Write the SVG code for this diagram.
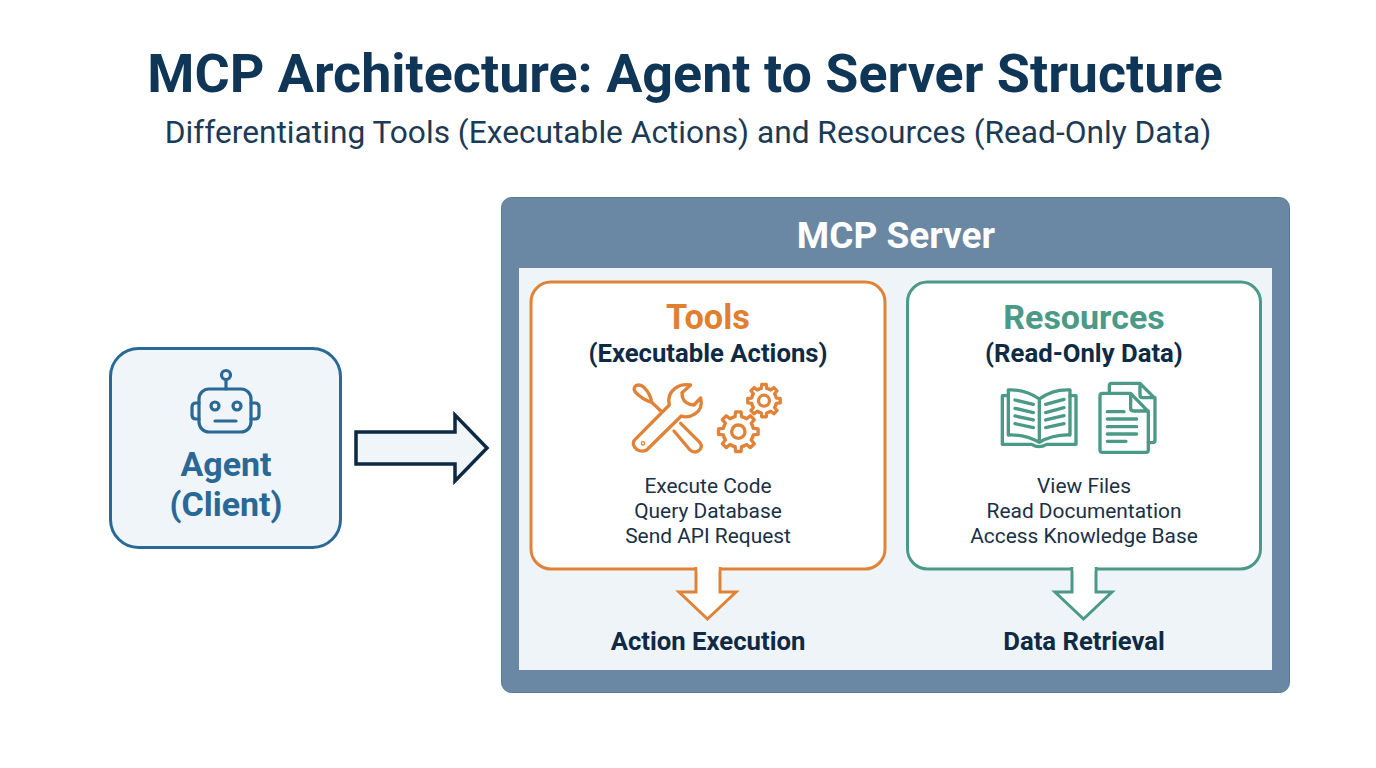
<svg xmlns="http://www.w3.org/2000/svg" width="1376" height="768" viewBox="0 0 1376 768">
<style>
text{font-family:Roboto,"Liberation Sans",sans-serif;text-anchor:middle}
.b{font-weight:700}
.item{font-size:20.900px;fill:#1a3046}
.hd{font-size:25.700px;font-weight:700;fill:#0f2a44}
.ic{fill:none;stroke-linejoin:round;stroke-linecap:round}
.or{stroke:#e08339}
.gr{stroke:#4a9a87}
</style>
<defs>
<g id="teeth">
<path id="t" d="M42.5 -17.6L45 -9.6L59.4 -8.3L59.4 8.3L45 9.6L42.5 17.6"/>
<use href="#t" transform="rotate(45)"/><use href="#t" transform="rotate(90)"/><use href="#t" transform="rotate(135)"/><use href="#t" transform="rotate(180)"/><use href="#t" transform="rotate(225)"/><use href="#t" transform="rotate(270)"/><use href="#t" transform="rotate(315)"/>
</g>
</defs>
<rect width="1376" height="768" fill="#fff"/>
<g id="title">
<text x="685" y="92" class="b" font-size="53.850" fill="#0f3557">MCP Architecture: Agent to Server Structure</text>
<text x="688" y="143" font-size="31.700" fill="#1c3a56">Differentiating Tools (Executable Actions) and Resources (Read-Only Data)</text>
</g>
<g id="agent">
<rect x="110.500" y="348.500" width="230" height="199" rx="28" fill="#f0f5f9" stroke="#2a6896" stroke-width="3"/>
<g class="ic" stroke="#2a6896" stroke-width="3.200">
<rect x="199" y="389" width="52" height="43" rx="10"/>
<path d="M199 403H196Q192 403 192 407V415Q192 419 196 419H199M251 403H255Q259 403 259 407V415Q259 419 255 419H251M226 380V389M215 421H236"/>
<circle cx="226" cy="375" r="4.500"/><circle cx="215" cy="406" r="4"/><circle cx="237" cy="406" r="4"/>
</g>
<text x="226" y="476" class="b" font-size="34" fill="#2a6896">Agent</text>
<text x="226" y="516" class="b" font-size="34" fill="#2a6896">(Client)</text>
</g>
<g id="server">
<rect x="501.500" y="197.500" width="788" height="495" rx="10" fill="#6a88a3" stroke="#587a96"/>
<rect x="519" y="268" width="753" height="402" fill="#eff4f9"/>
<text x="896" y="248" class="b" font-size="37" fill="#fff">MCP Server</text>
</g>
<g id="tools">
<rect x="531" y="282" width="354" height="287" rx="20" fill="#fff" stroke="#e08339" stroke-width="3"/>
<text x="708" y="329" class="b" font-size="34.300" fill="#e07f2f">Tools</text>
<text x="708" y="362" class="hd">(Executable Actions)</text>
<g class="ic or" transform="translate(610 370) scale(.3333)" stroke-width="10">
<path d="M72 212L178 105Q170 75 195 55Q215 40 242 45L216 68Q216 88 228 97Q240 105 252 105L272 84Q280 115 255 132Q235 145 214 138L110 240Q95 248 80 238Q65 225 72 212Z"/>
<circle cx="99" cy="220" r="2"/>
<path d="M155 125L125 97Q95 88 75 65Q68 52 80 46Q92 42 102 52Q122 72 125 97M212 160L270 218Q280 232 265 243Q252 250 240 240L192 183"/>
<g transform="translate(385 185)"><use href="#teeth"/><circle r="20"/></g>
<g transform="translate(462 92) scale(.82)" stroke-width="12"><use href="#teeth"/><circle r="20"/></g>
</g>
<text x="708" y="493" class="item">Execute Code</text>
<text x="708" y="518" class="item">Query Database</text>
<text x="708" y="543" class="item">Send API Request</text>
</g>
<g id="resources">
<rect x="907.500" y="282" width="353" height="287" rx="20" fill="#fff" stroke="#4a9a87" stroke-width="3"/>
<text x="1084" y="329" class="b" font-size="34" fill="#4a9a87">Resources</text>
<text x="1084" y="362" class="hd">(Read-Only Data)</text>
<g class="ic gr" transform="translate(990 375) scale(.3333)" stroke-width="10">
<path d="M148 72Q105 42 55 45V180Q105 178 148 202Q190 178 240 180V45Q190 42 148 72ZM148 72V202"/>
<path d="M55 62H37V208H125Q147 222 170 208H258V62H240"/>
<path d="M75 75L130 88M75 100L130 113M75 123L130 135M75 146L130 158M167 88L222 73M167 113L222 98M167 135L222 122M167 158L222 146"/>
<path d="M338 55H422L475 110V225Q475 232 468 232H338Q330 232 330 225V62Q330 55 338 55ZM422 55V100Q422 108 430 108H475"/>
<path d="M358 55V32Q358 25 365 25H450L495 70V195Q495 203 487 203H475M450 28V60Q450 68 458 68H495"/>
<path d="M352 110H402M352 132H440M352 155H440M352 177H440M352 199H408"/>
</g>
<text x="1084" y="493" class="item">View Files</text>
<text x="1084" y="518" class="item">Read Documentation</text>
<text x="1084" y="543" class="item">Access Knowledge Base</text>
</g>
<g id="connectors">
<path d="M356 432H455V415L487 448L455 481V464H356Z" fill="#f0f5f9" stroke="#0d2a42" stroke-width="3.500"/>
<path d="M696 567V592H679L707.500 619L736 592H720V567" fill="#fff" stroke="#e08339" stroke-width="3"/>
<path d="M1072 567V592H1055L1083.500 619L1112 592H1096V567" fill="#fff" stroke="#4a9a87" stroke-width="3"/>
<path d="M697.500 566H718.500V571H697.500ZM1073.500 566H1094.500V571H1073.500Z" fill="#fff"/>
</g>
<g id="outcomes">
<text x="708" y="650" class="hd">Action Execution</text>
<text x="1084" y="650" class="hd">Data Retrieval</text>
</g>
</svg>
